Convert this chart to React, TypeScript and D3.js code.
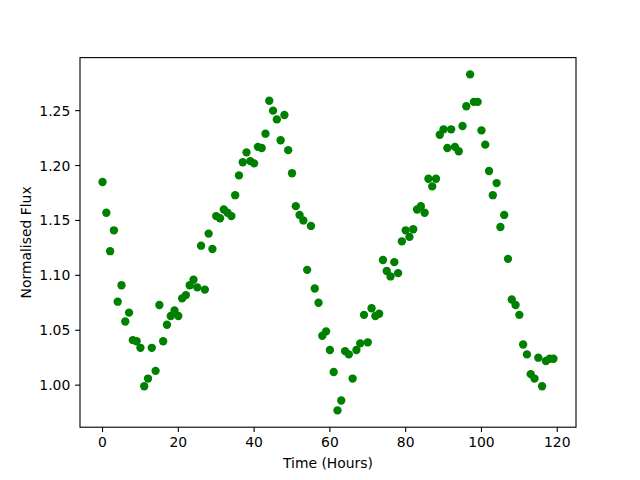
import React from "react";
import * as d3 from "d3";

const hours: number[] = Array.from({ length: 120 }, (_, i) => i);
const flux: number[] = [
  1.185, 1.157, 1.122, 1.141, 1.076, 1.091, 1.058, 1.066, 1.041, 1.040,
  1.034, 0.999, 1.006, 1.034, 1.013, 1.073, 1.040, 1.055, 1.063, 1.068,
  1.063, 1.079, 1.082, 1.091, 1.096, 1.089, 1.127, 1.087, 1.138, 1.124,
  1.154, 1.152, 1.160, 1.157, 1.154, 1.173, 1.191, 1.203, 1.212, 1.204,
  1.202, 1.217, 1.216, 1.229, 1.259, 1.250, 1.242, 1.223, 1.246, 1.214,
  1.193, 1.163, 1.155, 1.150, 1.105, 1.145, 1.088, 1.075, 1.045, 1.049,
  1.032, 1.012, 0.977, 0.986, 1.031, 1.028, 1.006, 1.032, 1.038, 1.064,
  1.039, 1.070, 1.063, 1.065, 1.114, 1.104, 1.099, 1.112, 1.102, 1.131,
  1.141, 1.135, 1.142, 1.160, 1.163, 1.157, 1.188, 1.181, 1.188, 1.228,
  1.233, 1.216, 1.233, 1.217, 1.213, 1.236, 1.254, 1.283, 1.258, 1.258,
  1.232, 1.219, 1.195, 1.173, 1.184, 1.144, 1.155, 1.115, 1.078, 1.073,
  1.064, 1.037, 1.028, 1.010, 1.006, 1.025, 0.999, 1.022, 1.024, 1.024,
];
const xTicks: number[] = [0, 20, 40, 60, 80, 100, 120];
const yTicks: number[] = [1.0, 1.05, 1.1, 1.15, 1.2, 1.25];
const xLabel = "Time (Hours)";
const yLabel = "Normalised Flux";

const W = 640;
const H = 480;
const L = 80;
const T = 57.6;
const PW = 496;
const PH = 369.6;
const FONT = "DejaVu Sans";
const FS = 13.9;

export default function App() {
  const [xmin, xmax] = d3.extent(hours) as [number, number];
  const [ymin, ymax] = d3.extent(flux) as [number, number];
  const xm = (xmax - xmin) * 0.05;
  const ym = (ymax - ymin) * 0.05;
  const x = d3.scaleLinear().domain([xmin - xm, xmax + xm]).range([L, L + PW]);
  const y = d3.scaleLinear().domain([ymin - ym, ymax + ym]).range([T + PH, T]);
  const tick = 4.86;
  const pad = 4.86;

  return (
    <svg
      width={W}
      height={H}
      style={{ position: "absolute", left: 0, top: 0, background: "white" }}
      fontFamily={FONT}
    >
      <rect x={0} y={0} width={W} height={H} fill="white" />
      <g>
        {hours.map((h, i) => (
          <circle key={i} cx={x(h)} cy={y(flux[i])} r={4.17} fill="#008000" />
        ))}
      </g>
      <rect x={L} y={T} width={PW} height={PH} fill="none" stroke="black" strokeWidth={1.1} />
      {xTicks.map((t) => (
        <g key={"x" + t}>
          <line x1={x(t)} x2={x(t)} y1={T + PH} y2={T + PH + tick} stroke="black" strokeWidth={1.1} />
          <text x={x(t)} y={T + PH + tick + pad} dy="0.76em" fontSize={FS} textAnchor="middle" fill="black">
            {t}
          </text>
        </g>
      ))}
      {yTicks.map((t) => (
        <g key={"y" + t}>
          <line x1={L - tick} x2={L} y1={y(t)} y2={y(t)} stroke="black" strokeWidth={1.1} />
          <text x={L - tick - pad} y={y(t)} dy="0.36em" fontSize={FS} textAnchor="end" fill="black">
            {d3.format(".2f")(t)}
          </text>
        </g>
      ))}
      <text x={L + PW / 2} y={468} fontSize={FS} textAnchor="middle" fill="black">
        {xLabel}
      </text>
      <text
        transform={`translate(31,${T + PH / 2}) rotate(-90)`}
        fontSize={FS}
        textAnchor="middle"
        fill="black"
      >
        {yLabel}
      </text>
    </svg>
  );
}
